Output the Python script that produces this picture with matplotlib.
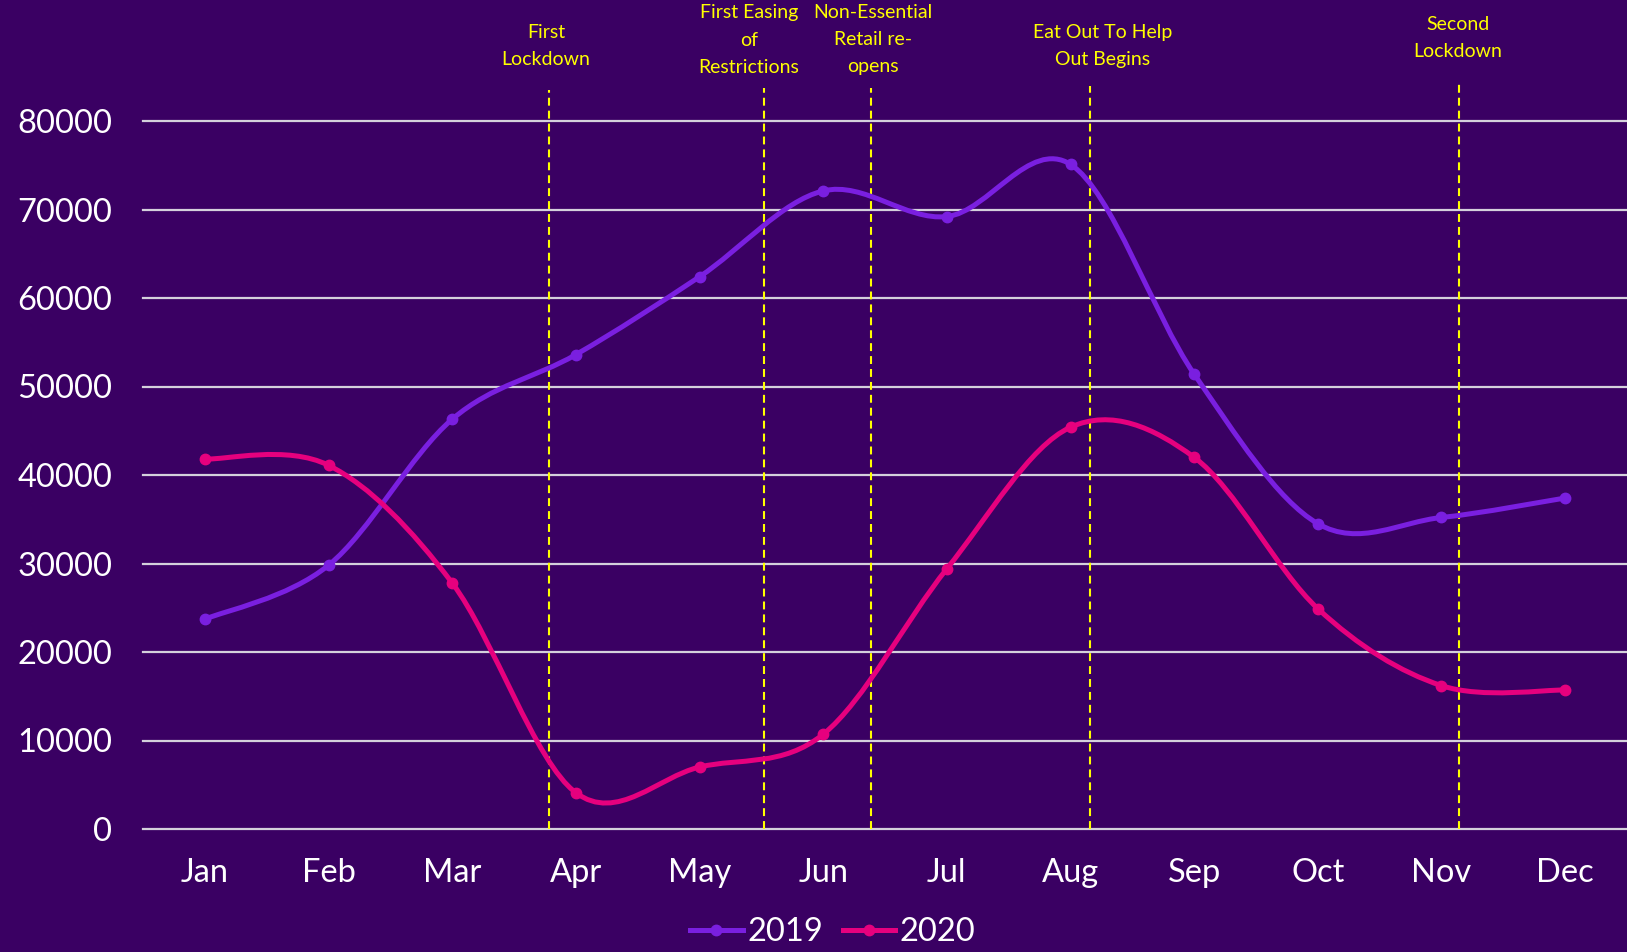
import numpy as np
import matplotlib
matplotlib.use("Agg")
import matplotlib.pyplot as plt
from matplotlib.path import Path
from matplotlib.patches import PathPatch
from matplotlib.lines import Line2D

# ---------------- data ----------------
months = ["Jan", "Feb", "Mar", "Apr", "May", "Jun",
          "Jul", "Aug", "Sep", "Oct", "Nov", "Dec"]
sales_2019 = [23700, 29800, 46300, 53600, 62400, 72100,
              69200, 75100, 51400, 34500, 35200, 37400]
sales_2020 = [41800, 41100, 27800, 4100, 7000, 10700,
              29400, 45400, 42000, 24900, 16200, 15700]
yticks = [0, 10000, 20000, 30000, 40000, 50000, 60000, 70000, 80000]

event_labels = ["First\nLockdown",
                "First Easing\nof\nRestrictions",
                "Non-Essential\nRetail re-\nopens",
                "Eat Out To Help\nOut Begins",
                "Second\nLockdown"]
event_x = [2.78, 4.52, 5.385, 7.16, 10.14]          # month-index position of line
event_label_x = [2.76, 4.40, 5.40, 7.26, 10.13]
event_label_y = [88500, 89150, 89200, 88500, 89350]
event_line_top = [83500, 83700, 83700, 84000, 84200]

# ---------------- style ----------------
BG = "#3a0063"
C2019 = "#7a1fe0"
C2020 = "#e6007e"
GRID = "#d4d0dc"
YELLOW = "#ffff00"
TICKFONT = "Lato"

fig = plt.figure(figsize=(16.27, 9.52), dpi=100, facecolor=BG)
ax = fig.add_axes([143 / 1627, 1 - 829 / 952, 1 - 143 / 1627, (829 - 121) / 952])
ax.set_facecolor(BG)

x = np.arange(len(months))


def smooth_path(xs, ys):
    xs = np.asarray(xs, float)
    ys = np.asarray(ys, float)
    n = len(xs)
    verts = [(xs[0], ys[0])]
    codes = [Path.MOVETO]
    for i in range(n - 1):
        p0 = np.array([xs[max(i - 1, 0)], ys[max(i - 1, 0)]])
        p1 = np.array([xs[i], ys[i]])
        p2 = np.array([xs[i + 1], ys[i + 1]])
        p3 = np.array([xs[min(i + 2, n - 1)], ys[min(i + 2, n - 1)]])
        c1 = p1 + (p2 - p0) / 6.0
        c2 = p2 - (p3 - p1) / 6.0
        verts += [tuple(c1), tuple(c2), tuple(p2)]
        codes += [Path.CURVE4] * 3
    return Path(verts, codes)


for ys, col, lab in [(sales_2019, C2019, "2019"), (sales_2020, C2020, "2020")]:
    patch = PathPatch(smooth_path(x, ys), facecolor="none", edgecolor=col,
                      lw=3.6, capstyle="round", joinstyle="round", zorder=4,
                      clip_on=False)
    ax.add_patch(patch)
    ax.plot(x, ys, "o", color=col, markersize=7.5, zorder=5, clip_on=False)

# event lines and labels
for ex, lx, ly, top, txt in zip(event_x, event_label_x, event_label_y,
                                event_line_top, event_labels):
    ax.plot([ex, ex], [0, top], color=YELLOW, lw=1.5, dashes=(3.8, 2.4),
            zorder=3, clip_on=False)
    ax.text(lx, ly, txt, color=YELLOW, ha="center", va="center",
            fontsize=14, family="Lato", linespacing=1.72, clip_on=False)

ax.set_xlim(-0.5, 11.5)
ax.set_ylim(0, 80000)
ax.set_xticks(x)
ax.set_xticklabels(months)
ax.set_yticks(yticks)
ax.set_yticklabels([str(v) for v in yticks])
ax.tick_params(axis="both", length=0, colors="white", labelsize=23.5)
ax.tick_params(axis="y", pad=22)
ax.tick_params(axis="x", pad=21)
for lbl in ax.get_xticklabels() + ax.get_yticklabels():
    lbl.set_family(TICKFONT)
for s in ax.spines.values():
    s.set_visible(False)
ax.yaxis.grid(True, color=GRID, lw=1.6, zorder=1)
ax.set_axisbelow(True)
for gl in ax.get_ygridlines():
    gl.set_clip_on(False)

handles = [Line2D([], [], color=C2019, lw=3.6, marker="o", markersize=7.5),
           Line2D([], [], color=C2020, lw=3.6, marker="o", markersize=7.5)]
leg = fig.legend(handles, ["2019", "2020"], loc="center",
                 bbox_to_anchor=(833 / 1627, 1 - 932 / 952), ncol=2,
                 frameon=False, handlelength=1.6, handletextpad=0.15,
                 columnspacing=0.6,
                 prop={"family": TICKFONT, "size": 23.5})
for t in leg.get_texts():
    t.set_color("white")

fig.savefig("out.png", dpi=100, facecolor=BG)
